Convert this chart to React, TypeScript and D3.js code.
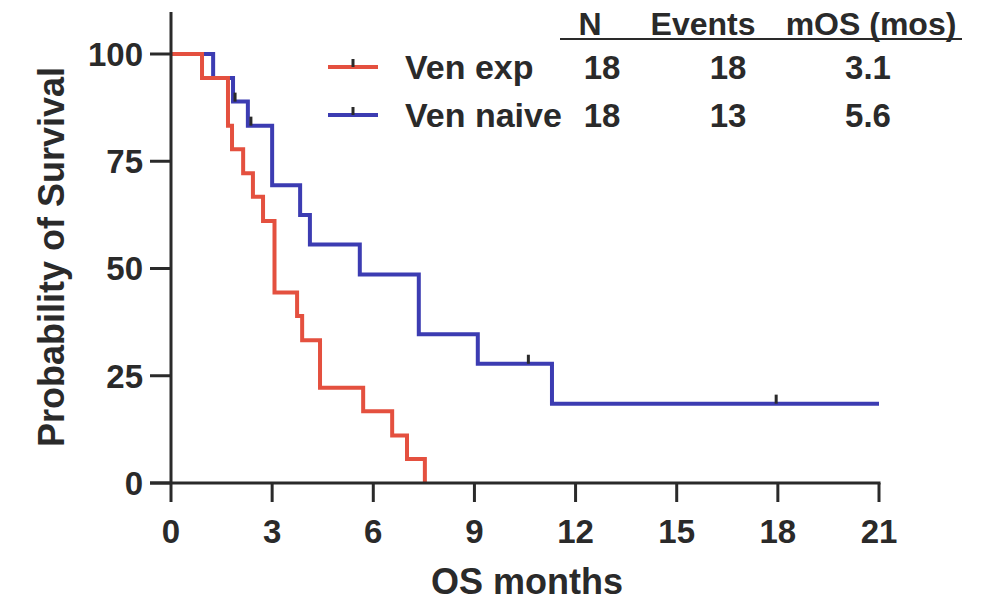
import React from "react";
import * as d3 from "d3";

const xTicks = [0, 3, 6, 9, 12, 15, 18, 21];
const yTicks = [0, 25, 50, 75, 100];

const redTimes = [0, 0.92, 1.69, 1.81, 2.14, 2.43, 2.73, 3.07, 3.74, 3.89, 4.42, 5.7, 6.56, 7.0, 7.53];
const redSurv = [100, 94.4, 83.3, 77.8, 72.2, 66.7, 61.1, 44.4, 38.9, 33.3, 22.2, 16.7, 11.1, 5.6, 0];

const blueTimes = [0, 1.25, 1.84, 2.28, 3.0, 3.83, 4.12, 5.6, 7.35, 9.1, 11.3, 21];
const blueSurv = [100, 94.4, 88.9, 83.3, 69.4, 62.5, 55.6, 48.6, 34.7, 27.8, 18.5, 18.5];
const blueCensor = [1.9, 2.37, 10.6, 17.95];

const legendNames = ["Ven exp", "Ven naive"];
const legendN = ["18", "18"];
const legendEvents = ["18", "13"];
const legendMOS = ["3.1", "5.6"];
const headers = ["N", "Events", "mOS (mos)"];

const RED = "#e4503f";
const BLUE = "#3c3cb2";
const INK = "#2a2a2a";
const FONT = "'Liberation Sans', Arial, sans-serif";

export default function App() {
  const x = d3.scaleLinear().domain([0, 21]).range([171, 879]);
  const y = d3.scaleLinear().domain([0, 100]).range([483, 54]);

  const line = d3
    .line<[number, number]>()
    .x((d) => x(d[0]))
    .y((d) => y(d[1]))
    .curve(d3.curveStepAfter);

  const redPts: [number, number][] = redTimes.map((t, i) => [t, redSurv[i]]);
  const bluePts: [number, number][] = blueTimes.map((t, i) => [t, blueSurv[i]]);

  const blueAt = (t: number) => {
    let v = blueSurv[0];
    for (let i = 0; i < blueTimes.length; i++) if (blueTimes[i] <= t) v = blueSurv[i];
    return v;
  };

  const rowY = [67, 115];
  const colors = [RED, BLUE];

  return (
    <svg
      width={987}
      height={601}
      style={{ position: "absolute", left: 0, top: 0, background: "#fff" }}
      fontFamily={FONT}
    >
      <rect x={0} y={0} width={987} height={601} fill="#fff" />
      {/* curves */}
      <path d={line(bluePts) || ""} fill="none" stroke={BLUE} strokeWidth={4} />
      <path d={line(redPts) || ""} fill="none" stroke={RED} strokeWidth={4} />
      {blueCensor.map((t, i) => (
        <line
          key={i}
          x1={x(t)}
          x2={x(t)}
          y1={y(blueAt(t))}
          y2={y(blueAt(t)) - 9}
          stroke={INK}
          strokeWidth={3}
        />
      ))}

      {/* axes */}
      <line x1={171} x2={171} y1={12} y2={484} stroke={INK} strokeWidth={3} />
      <line x1={150} x2={x(21) + 1.5} y1={483} y2={483} stroke={INK} strokeWidth={3} />
      {yTicks.map((v) => (
        <g key={v}>
          <line x1={150} x2={171} y1={y(v)} y2={y(v)} stroke={INK} strokeWidth={3} />
          <text
            x={143}
            y={y(v)}
            dy="0.36em"
            textAnchor="end"
            fontSize={33}
            fontWeight="bold"
            fill={INK}
          >
            {v}
          </text>
        </g>
      ))}
      {xTicks.map((v) => (
        <g key={v}>
          <line x1={x(v)} x2={x(v)} y1={483} y2={502} stroke={INK} strokeWidth={3} />
          <text
            x={x(v)}
            y={543}
            textAnchor="middle"
            fontSize={33}
            fontWeight="bold"
            fill={INK}
          >
            {v}
          </text>
        </g>
      ))}
      <text x={527} y={594} textAnchor="middle" fontSize={36} fontWeight="bold" fill={INK}>
        OS months
      </text>
      <text
        transform="translate(64,257) rotate(-90)"
        textAnchor="middle"
        fontSize={36}
        fontWeight="bold"
        fill={INK}
      >
        Probability of Survival
      </text>

      {/* legend table */}
      <text x={590} y={35} textAnchor="middle" fontSize={32} fontWeight="bold" fill={INK}>
        {headers[0]}
      </text>
      <text x={703} y={35} textAnchor="middle" fontSize={32} fontWeight="bold" fill={INK}>
        {headers[1]}
      </text>
      <text x={871} y={35} textAnchor="middle" fontSize={32} fontWeight="bold" fill={INK}>
        {headers[2]}
      </text>
      <line x1={560} x2={962} y1={39} y2={39} stroke={INK} strokeWidth={2} />
      {legendNames.map((name, i) => (
        <g key={name}>
          <line x1={328} x2={378} y1={rowY[i]} y2={rowY[i]} stroke={colors[i]} strokeWidth={4} />
          <line x1={353} x2={353} y1={rowY[i]} y2={rowY[i] - 8} stroke={INK} strokeWidth={3} />
          <text x={405} y={rowY[i] + 12} fontSize={34} fontWeight="bold" fill={INK}>
            {name}
          </text>
          <text x={602} y={rowY[i] + 12} textAnchor="middle" fontSize={33} fontWeight="bold" fill={INK}>
            {legendN[i]}
          </text>
          <text x={728} y={rowY[i] + 12} textAnchor="middle" fontSize={33} fontWeight="bold" fill={INK}>
            {legendEvents[i]}
          </text>
          <text x={868} y={rowY[i] + 12} textAnchor="middle" fontSize={33} fontWeight="bold" fill={INK}>
            {legendMOS[i]}
          </text>
        </g>
      ))}
    </svg>
  );
}
